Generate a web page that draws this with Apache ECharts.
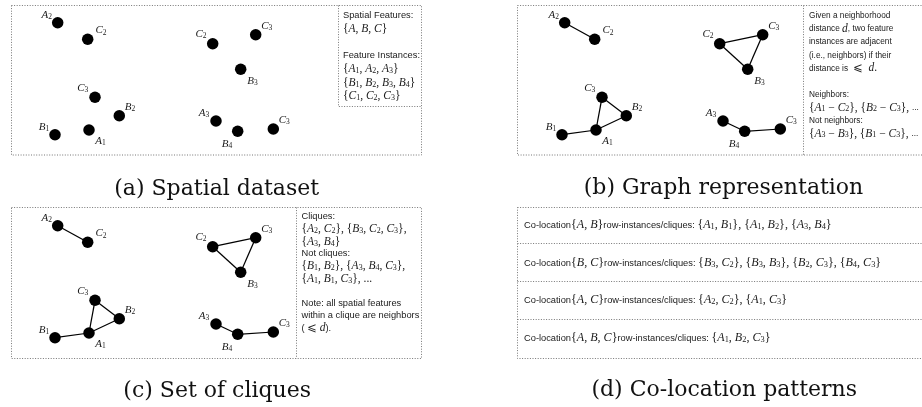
<!DOCTYPE html>
<html>
<head>
<meta charset="utf-8">
<script src="https://cdn.jsdelivr.net/npm/echarts@6/dist/echarts.min.js"></script>
<style>
html,body{margin:0;padding:0;background:#fff;}
#chart{width:922px;height:407px;}
</style>
</head>
<body>
<div id="chart"></div>
<script>
// ---------------- DATA ----------------
// Spatial instances (same layout in panels a, b, c), in panel units
const nodeIds    = ['A2','C2','C2b','C3b','B3','C3','B2','B1','A1','A3','B4','C3c'];
const nodeLetter = ['A','C','C','C','B','C','B','B','A','A','B','C'];
const nodeSub    = ['2','2','2','3','3','3','2','1','1','3','4','3'];
const nodeX      = [46.7, 76.7, 201.7, 244.7, 229.7, 84, 108.3, 44, 78, 205, 226.7, 262.3];
const nodeY      = [17.7, 34.3, 38.7, 29.7, 64.3, 92.3, 110.7, 129.7, 125, 116, 126.3, 124];
// Neighbor relations (edges) in panels b and c
const edgeFrom = ['A2','C2b','C2b','C3b','C3','C3','B2','B1','A3','B4'];
const edgeTo   = ['C2','C3b','B3','B3','A1','B2','A1','A1','B4','C3c'];

// Panel texts ($...$ = math)
const textA = [
  'Spatial Features:',
  '${A, B, C}$',
  '',
  'Feature Instances:',
  '${A_1, A_2, A_3}$',
  '${B_1, B_2, B_3, B_4}$',
  '${C_1, C_2, C_3}$'
];
const textB = [
  'Given a neighborhood',
  'distance $d$, two feature',
  'instances are adjacent',
  '(i.e., neighbors) if their',
  'distance is $ ⩽  d.$',
  '',
  'Neighbors:',
  '${A_1 − C_2}, {B_2 − C_3}, $...',
  'Not neighbors:',
  '${A_3 − B_3}, {B_1 − C_3}, $...'
];
const textC = [
  'Cliques:',
  '${A_2, C_2}, {B_3, C_2, C_3},$',
  '${A_3, B_4}$',
  'Not cliques:',
  '${B_1, B_2}, {A_3, B_4, C_3},$',
  '${A_1, B_1, C_3}, ...$',
  '',
  'Note: all spatial features',
  'within a clique are neighbors',
  '( $⩽ d$).'
];
const textD = [
  'Co-location${A, B}$row-instances/cliques: ${A_1, B_1}, {A_1, B_2}, {A_3, B_4}$',
  'Co-location${B, C}$row-instances/cliques: ${B_3, C_2}, {B_3, B_3}, {B_2, C_3}, {B_4, C_3}$',
  'Co-location${A, C}$row-instances/cliques: ${A_2, C_2}, {A_1, C_3}$',
  'Co-location${A, B, C}$row-instances/cliques: ${A_1, B_2, C_3}$'
];
const captions = ['(a) Spatial dataset', '(b) Graph representation', '(c) Set of cliques', '(d) Co-location patterns'];

// ---------------- LAYOUT / STYLE ----------------
const labelOffset = {
  A2:[-11,-7.7], C2:[13.3,-8.7], C2b:[-11.7,-9.3], C3b:[11,-9], B3:[11.7,11.7],
  C3:[-12.3,-9], B2:[10.7,-9], B1:[-11,-8], A1:[11.5,11], A3:[-12,-7.7],
  B4:[-10.7,12.7], C3c:[11,-9]
};
const SERIF = "'Liberation Serif', 'DejaVu Serif', serif";
const SANS = "'Liberation Sans', Arial, sans-serif";
const MATHSYM = "'Liberation Serif', 'DejaVu Serif', 'DejaVu Sans', serif";
const INK = '#1a1a1a';

function richStyles(s, ms) {
  const lh = 12 * s;
  return {
    sf: {fontFamily: SANS, fontSize: 9.3 * s, color: INK, lineHeight: lh},
    mi: {fontFamily: SERIF, fontStyle: 'italic', fontSize: 11.5 * s * ms, color: INK, lineHeight: lh},
    mr: {fontFamily: MATHSYM, fontSize: 11.5 * s * ms, color: INK, lineHeight: lh},
    sb: {fontFamily: SERIF, fontSize: 8 * s * ms, color: INK, lineHeight: 5 * s, verticalAlign: 'bottom'}
  };
}
function toRich(line) {
  const parts = line.split('$');
  let out = '';
  parts.forEach(function (p, i) {
    if (!p) return;
    if (i % 2 === 0) { out += '{sf|' + p + '}'; return; }
    let buf = '';
    const flush = function () { if (buf) { out += '{mr|' + buf + '}'; buf = ''; } };
    for (let k = 0; k < p.length; k++) {
      const ch = p[k];
      if (/[A-Za-z]/.test(ch)) { flush(); out += '{mi|' + ch + '}'; }
      else if (ch === '_') {
        flush(); let d = ''; k++;
        while (k < p.length && /[0-9]/.test(p[k])) { d += p[k]; k++; }
        k--; out += '{sb|' + d + '}';
      }
      else if (ch === '}') { flush(); out += '}'; }
      else buf += ch;
    }
    flush();
  });
  return out;
}

const titles = [];
function addBlock(lines, x, ys, s, ms) {
  const st = richStyles(s, ms);
  lines.forEach(function (ln, i) {
    if (!ln) return;
    titles.push({
      left: x, top: ys[i] - 6 * s, padding: 0, itemGap: 0,
      text: toRich(ln),
      textStyle: {fontFamily: MATHSYM, fontSize: 11.5 * s * ms, fontWeight: 'normal', color: INK, lineHeight: 12 * s, rich: st}
    });
  });
}
function steps(y0, dy, n) { const a = []; for (let i = 0; i < n; i++) a.push(y0 + i * dy); return a; }
addBlock(textA, 343, steps(15, 13.5, textA.length), 1, 1);
addBlock(textB, 809, steps(16, 13.1, textB.length), 0.89, 1.12);
addBlock(textC, 301.5, steps(216.7, 12.4, textC.length), 1, 1);
addBlock(textD, 524, [225, 263.3, 300, 338.3], 1, 1.05);

// Grids for node panels
const panels = [
  {left: 11, top: 5, edges: false},
  {left: 518, top: 5, edges: true},
  {left: 11, top: 208, edges: true}
];
const nodeLabelRich = {
  mi: {fontFamily: SERIF, fontStyle: 'italic', fontSize: 11, color: INK, lineHeight: 12},
  sb: {fontFamily: SERIF, fontSize: 7.5, color: INK, lineHeight: 5, verticalAlign: 'bottom'}
};
const grids = [], xAxes = [], yAxes = [], series = [];
panels.forEach(function (p, gi) {
  grids.push({left: p.left, top: p.top, width: 327, height: 150, show: false});
  xAxes.push({type: 'value', gridIndex: gi, min: 0, max: 327, show: false});
  yAxes.push({type: 'value', gridIndex: gi, min: 0, max: 150, inverse: true, show: false});
  series.push({
    type: 'graph', coordinateSystem: 'cartesian2d', xAxisIndex: gi, yAxisIndex: gi,
    symbol: 'circle', symbolSize: 11.5, silent: true, animation: false,
    itemStyle: {color: '#000', opacity: 1},
    lineStyle: {color: '#000', width: 1.25, opacity: 1, curveness: 0},
    label: {
      show: true, position: 'inside', color: INK,
      formatter: function (prm) { const i = prm.dataIndex; return '{mi|' + nodeLetter[i] + '}{sb|' + nodeSub[i] + '}'; },
      rich: nodeLabelRich
    },
    emphasis: {disabled: true},
    data: nodeIds.map(function (id, i) {
      return {name: id, value: [nodeX[i], nodeY[i]], label: {offset: labelOffset[id]}};
    }),
    links: p.edges ? edgeFrom.map(function (f, i) { return {source: f, target: edgeTo[i]}; }) : []
  });
});

// Dotted frames
const DOT = {fill: 'none', stroke: '#666', lineWidth: 0.9, lineDash: [1, 1.6]};
function rect(x, y, w, h) { return {type: 'rect', shape: {x: x, y: y, width: w, height: h}, style: DOT, silent: true}; }
function pl(pts) { return {type: 'polyline', shape: {points: pts}, style: DOT, silent: true}; }
const graphics = [
  rect(11.5, 5.5, 410, 149.5),
  pl([[338.5, 5.5], [338.5, 106.5], [421.5, 106.5]]),
  rect(517.5, 5.5, 420, 149.5),
  pl([[803.5, 5.5], [803.5, 155]]),
  rect(11.5, 207.5, 410, 151),
  pl([[296.5, 207.5], [296.5, 358.5]]),
  rect(517.5, 207.5, 420, 151),
  pl([[517.5, 243.5], [922, 243.5]]),
  pl([[517.5, 281.5], [922, 281.5]]),
  pl([[517.5, 319.5], [922, 319.5]])
];
const capPos = [[216.7, 189], [723.5, 188], [217.2, 391], [724.2, 390]];
captions.forEach(function (c, i) {
  graphics.push({
    type: 'text', x: capPos[i][0], y: capPos[i][1], silent: true,
    style: {text: c, fontFamily: "'DejaVu Serif', serif", fontSize: 22, fill: '#111',
            textAlign: 'center', textVerticalAlign: 'middle', align: 'center', verticalAlign: 'middle'}
  });
});

const chart = echarts.init(document.getElementById('chart'), null, {renderer: 'canvas'});
chart.setOption({
  animation: false,
  backgroundColor: '#fff',
  title: titles,
  grid: grids,
  xAxis: xAxes,
  yAxis: yAxes,
  series: series,
  graphic: {elements: graphics}
});
</script>
</body>
</html>
